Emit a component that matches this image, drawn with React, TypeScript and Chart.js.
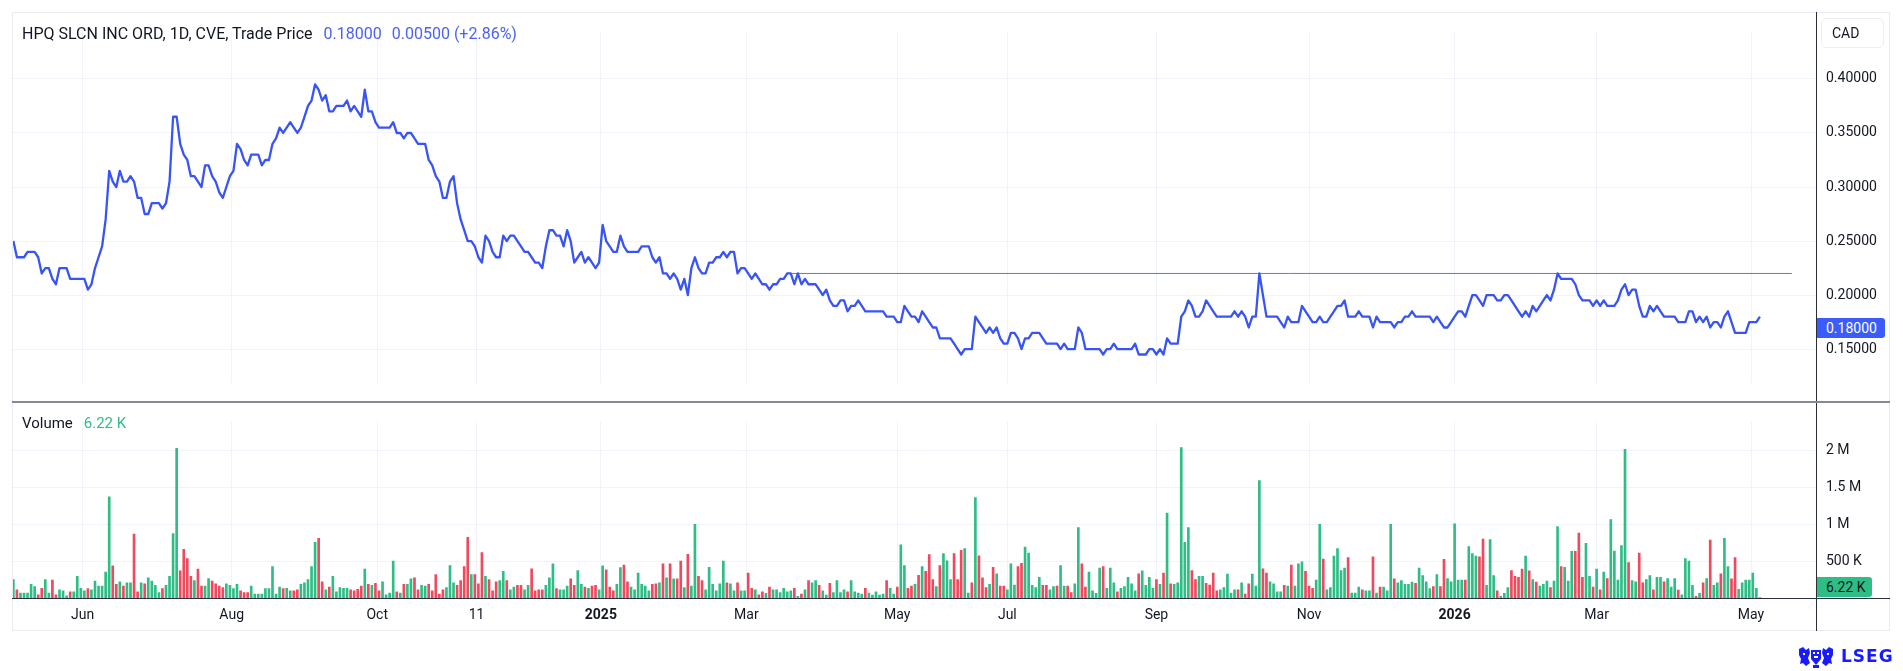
import React, { useEffect, useRef } from "react";
import { Chart, registerables } from "chart.js";

Chart.register(...registerables);

// ---------- DATA ----------
const closePrices: number[] = [
  // May 2024 -> Oct 2024
  0.25, 0.235, 0.235, 0.235, 0.24, 0.24, 0.24, 0.235, 0.22, 0.225,
  0.225, 0.215, 0.21, 0.225, 0.225, 0.225, 0.215, 0.215, 0.215, 0.215,
  0.215, 0.205, 0.21, 0.225, 0.235, 0.245, 0.27, 0.315, 0.305, 0.3,
  0.315, 0.305, 0.305, 0.31, 0.305, 0.29, 0.29, 0.275, 0.275, 0.285,
  0.285, 0.285, 0.28, 0.285, 0.305, 0.365, 0.365, 0.34, 0.33, 0.325,
  0.31, 0.31, 0.305, 0.3, 0.32, 0.32, 0.31, 0.305, 0.295, 0.29,
  0.3, 0.31, 0.315, 0.34, 0.335, 0.325, 0.32, 0.33, 0.33, 0.33,
  0.32, 0.325, 0.325, 0.34, 0.345, 0.355, 0.35, 0.355, 0.36, 0.355,
  0.35, 0.355, 0.365, 0.375, 0.38, 0.395, 0.39, 0.38, 0.385, 0.37,
  0.37, 0.375, 0.375, 0.375, 0.38, 0.37, 0.375, 0.37, 0.365,
  // Oct 2024 -> Feb 2025
  0.39, 0.37, 0.37, 0.36, 0.355, 0.355, 0.355, 0.355, 0.36, 0.35,
  0.35, 0.345, 0.35, 0.35, 0.345, 0.34, 0.34, 0.34, 0.325, 0.32,
  0.31, 0.305, 0.29, 0.29, 0.305, 0.31, 0.285, 0.27, 0.26, 0.25,
  0.25, 0.245, 0.235, 0.23, 0.255, 0.25, 0.24, 0.235, 0.235, 0.255,
  0.25, 0.255, 0.255, 0.25, 0.245, 0.24, 0.24, 0.235, 0.23, 0.23,
  0.225, 0.245, 0.26, 0.26, 0.255, 0.255, 0.245, 0.26, 0.25, 0.23,
  0.235, 0.24, 0.23, 0.235, 0.23, 0.225, 0.23, 0.265, 0.25, 0.245,
  0.24, 0.24, 0.255, 0.245, 0.24, 0.24, 0.24, 0.24, 0.245, 0.245,
  0.245, 0.235, 0.23, 0.235, 0.22, 0.22, 0.215, 0.22, 0.215, 0.205,
  0.215, 0.2, 0.225, 0.235, 0.225, 0.22, 0.22, 0.23, 0.23, 0.235,
  // Feb 2025 -> Jul 2025
  0.235, 0.24, 0.235, 0.24, 0.24, 0.22, 0.225, 0.225, 0.22, 0.215,
  0.22, 0.215, 0.21, 0.21, 0.205, 0.21, 0.21, 0.215, 0.215, 0.22,
  0.22, 0.21, 0.22, 0.21, 0.215, 0.21, 0.21, 0.21, 0.205, 0.2,
  0.205, 0.195, 0.19, 0.19, 0.195, 0.195, 0.185, 0.19, 0.19, 0.195,
  0.19, 0.185, 0.185, 0.185, 0.185, 0.185, 0.185, 0.18, 0.18, 0.18,
  0.175, 0.175, 0.19, 0.185, 0.18, 0.18, 0.175, 0.185, 0.18, 0.175,
  0.17, 0.17, 0.16, 0.16, 0.16, 0.16, 0.155, 0.15, 0.145, 0.15,
  0.15, 0.15, 0.18, 0.175, 0.17, 0.165, 0.17, 0.165, 0.17, 0.16,
  0.155, 0.155, 0.165, 0.165, 0.16, 0.15, 0.16, 0.16, 0.165, 0.165,
  0.165, 0.16, 0.155, 0.155, 0.155, 0.155, 0.15, 0.155, 0.15, 0.15,
  // Jul 2025 -> Dec 2025
  0.15, 0.17, 0.165, 0.15, 0.15, 0.15, 0.15, 0.15, 0.145, 0.15,
  0.15, 0.155, 0.15, 0.15, 0.15, 0.15, 0.15, 0.155, 0.145, 0.145,
  0.145, 0.15, 0.15, 0.145, 0.15, 0.145, 0.16, 0.155, 0.155, 0.155,
  0.18, 0.185, 0.195, 0.19, 0.18, 0.18, 0.185, 0.195, 0.19, 0.185,
  0.18, 0.18, 0.18, 0.18, 0.18, 0.185, 0.18, 0.185, 0.18, 0.17,
  0.18, 0.18, 0.22, 0.2, 0.18, 0.18, 0.18, 0.18, 0.175, 0.17,
  0.18, 0.175, 0.175, 0.175, 0.19, 0.185, 0.18, 0.175, 0.175, 0.18,
  0.175, 0.175, 0.18, 0.185, 0.19, 0.19, 0.195, 0.18, 0.18, 0.18,
  0.185, 0.18, 0.18, 0.18, 0.17, 0.18, 0.175, 0.175, 0.175, 0.175,
  0.17, 0.175, 0.175, 0.18, 0.18, 0.185, 0.18, 0.18, 0.18,
  // Dec 2025 -> May 2026
  0.18, 0.18, 0.175, 0.18, 0.175, 0.17, 0.17, 0.175, 0.18, 0.185,
  0.185, 0.18, 0.19, 0.2, 0.2, 0.195, 0.19, 0.2, 0.2, 0.2,
  0.195, 0.195, 0.2, 0.2, 0.195, 0.19, 0.185, 0.18, 0.185, 0.18,
  0.19, 0.185, 0.19, 0.195, 0.2, 0.195, 0.205, 0.22, 0.215, 0.215,
  0.215, 0.215, 0.21, 0.2, 0.195, 0.195, 0.195, 0.19, 0.195, 0.19,
  0.195, 0.19, 0.19, 0.19, 0.195, 0.205, 0.21, 0.2, 0.205, 0.205,
  0.19, 0.18, 0.18, 0.19, 0.185, 0.19, 0.185, 0.18, 0.18, 0.18,
  0.18, 0.175, 0.175, 0.175, 0.185, 0.185, 0.175, 0.18, 0.175, 0.18,
  0.17, 0.175, 0.175, 0.17, 0.18, 0.185, 0.175, 0.165, 0.165, 0.165,
  0.165, 0.175, 0.175, 0.175, 0.18,
];

// daily volume, in thousands of shares
const volumeThousands: number[] = [
  250, 110, 66, 66, 66, 185, 154, 44, 132, 250,
  66, 242, 44, 110, 97, 30, 84, 84, 295, 132,
  97, 128, 110, 229, 163, 163, 352, 1374, 436, 185,
  220, 163, 207, 207, 868, 84, 207, 194, 273, 229,
  172, 75, 128, 172, 295, 877, 2035, 370, 661, 537,
  295, 238, 392, 163, 163, 264, 229, 194, 163, 141,
  194, 172, 128, 185, 97, 75, 75, 163, 53, 53,
  53, 128, 128, 427, 53, 150, 128, 132, 97, 97,
  110, 185, 207, 250, 427, 758, 810, 220, 110, 150,
  295, 84, 141, 132, 132, 110, 97, 119, 163,

  392, 185, 172, 198, 97, 220, 44, 66, 502, 84,
  66, 185, 185, 260, 273, 110, 172, 163, 185, 97,
  317, 53, 110, 141, 440, 207, 172, 238, 427, 824,
  317, 317, 194, 617, 295, 251, 97, 220, 238, 361,
  238, 110, 150, 172, 172, 110, 172, 396, 97, 110,
  110, 172, 273, 463, 128, 110, 110, 163, 260, 172,
  374, 185, 150, 132, 163, 172, 110, 436, 383, 150,
  97, 185, 414, 449, 220, 150, 110, 339, 185, 163,
  97, 185, 194, 207, 463, 273, 463, 260, 260, 502,
  141, 595, 163, 1000, 295, 238, 110, 418, 185, 97,

  194, 502, 207, 194, 97, 207, 97, 97, 339, 132,
  110, 44, 84, 62, 150, 110, 110, 75, 132, 84,
  97, 132, 22, 53, 110, 238, 207, 238, 172, 97,
  40, 198, 75, 238, 75, 110, 84, 238, 84, 66,
  53, 132, 66, 40, 84, 40, 53, 238, 132, 53,
  150, 722, 440, 132, 163, 185, 308, 427, 361, 590,
  251, 154, 440, 603, 506, 251, 603, 251, 647, 670,
  66, 207, 1366, 573, 273, 141, 185, 418, 330, 163,
  163, 110, 463, 176, 427, 471, 692, 612, 172, 141,
  282, 172, 172, 110, 154, 163, 440, 163, 163, 75,

  194, 956, 463, 150, 352, 97, 62, 405, 427,
  132, 405, 207, 84, 132, 154, 282, 194, 97, 330,
  370, 172, 282, 132, 251, 185, 339, 1154, 194, 185,
  207, 2044, 758, 956, 374, 251, 295, 295, 198, 176,
  339, 97, 110, 141, 326, 66, 110, 110, 207, 53,
  194, 326, 163, 1595, 396, 339, 220, 194, 84, 84,
  172, 163, 449, 163, 463, 493, 361, 163, 132, 242,
  1000, 529, 110, 141, 568, 670, 374, 405, 551, 66,
  66, 150, 110, 97, 97, 559, 66, 150, 150, 97,
  1000, 260, 207, 238, 185, 185, 216, 198, 405, 304,

  220, 128, 154, 317, 154, 524, 264, 220, 1009, 242,
  242, 242, 700, 603, 568, 559, 802, 172, 793, 304,
  97, 22, 62, 141, 374, 295, 282, 392, 568, 370,
  251, 216, 163, 185, 229, 141, 229, 969, 427, 418,
  229, 634, 634, 881, 282, 744, 295, 150, 392, 110,
  352, 264, 1066, 639, 242, 714, 2022, 480, 238, 220,
  612, 207, 251, 304, 110, 282, 282, 220, 264, 150,
  264, 106, 44, 537, 502, 172, 22, 62, 207, 264,
  788, 172, 207, 330, 810, 427, 260, 551, 119, 207,
  242, 242, 339, 132, 6.22,
];

// g = up day (green bar), r = down day (red bar)
const volumeDirection: string = [
  "grgggggrrg", "grrgggrggg", "grggggggrr", "grggrrgrgg", "ggrggggrrr",
  "rgrrggrrrr", "ggggrrrggg", "ggggggrggr", "rgggggrrgr", "gggggrrrr",
  "grgrrggggr", "grggrrggrr", "rrrgggrrrr", "grrrgrrrgg", "rggrrggrrr",
  "rgggrgggrr", "ggrgrrggrr", "rggrrggggg", "grrgrgrgrr", "grggrrgggg",
  "ggrggrggrr", "grrgrggggg", "grgrgrggrg", "grggggrggg", "grgggggrgg",
  "rggrrgrgrr", "rgrgggrrrg", "grgrrrgrgr", "rgggrrgggg", "grrggrggrr",
  "ggrrggggr", "gggrgggggr", "ggggrgrgrg", "ggggrrggrr", "rrgggggrgr",
  "rgggrrgggg", "rgrgggrrrg", "grggggggrg", "ggrggrgrgg", "grgggggrgg",
  "ggrgrrgggg", "grgggrrggg", "rgggrrrrgr", "grgggrggrg", "ggrrrggrgr",
  "grgggggrgg", "rrggrggrgg", "grggggrgrg", "rggrggrrgg", "ggggg",
].join("");

// time-axis labels and the trading-day position where each one sits
const xTickLabels: string[] = ["Jun", "Aug", "Oct", "11", "2025", "Mar", "May", "Jul", "Sep", "Nov", "2026", "Mar", "May"];
const xTickDayIndex: number[] = [19.5, 61.5, 102.5, 130.5, 165.5, 206.5, 249, 280, 322, 365, 406, 446, 489.5];

const priceTicks: number[] = [0.15, 0.2, 0.25, 0.3, 0.35, 0.4];
const volumeTicks: number[] = [500000, 1000000, 1500000, 2000000];
const volumeTickLabels: string[] = ["500 K", "1 M", "1.5 M", "2 M"];

// horizontal level drawn on the chart (from trading day .. to trading day)
const resistanceLevel = 0.22;
const resistanceFromDay = 218;
const resistanceToDay = 501;

const symbolTitle = "HPQ SLCN INC ORD, 1D, CVE, Trade Price";
const lastPrice = 0.18;
const priceChange = 0.005;
const priceChangePct = 2.86;
const lastVolumeText = "6.22 K";
const currency = "CAD";

// ---------- STYLE ----------
const FONT = "Roboto, 'Liberation Sans', Arial, sans-serif";
const TEXT = "#131722";
const GRID = "#f0f3fa";
const UP = "#2ebd85";
const DOWN = "#f0485c";
const LINE = "#3853f6";
const X_MIN = -0.1;
const X_MAX = 507.8;
const AXIS_W = 74;

function xScale(showLabels: boolean): any {
  return {
    type: "linear",
    min: X_MIN,
    max: X_MAX,
    offset: false,
    afterBuildTicks: (s: any) => {
      s.ticks = xTickDayIndex.map((v) => ({ value: v }));
    },
    ticks: showLabels
      ? {
          callback: (_v: any, i: number) => xTickLabels[i],
          color: TEXT,
          font: (ctx: any) => ({
            family: FONT,
            size: 14,
            weight: /^\d{4}$/.test(xTickLabels[ctx.index] || "") ? "bold" : "normal",
          }),
          padding: 9,
          maxRotation: 0,
          autoSkip: false,
        }
      : { display: false },
    grid: { color: GRID, drawTicks: false, offset: false },
    border: { display: false },
    afterFit: (s: any) => {
      s.height = showLabels ? 33 : 0;
    },
  };
}

function PriceChart() {
  const ref = useRef<HTMLCanvasElement>(null);
  useEffect(() => {
    const chart = new Chart(ref.current as HTMLCanvasElement, {
      type: "line",
      data: {
        datasets: [
          {
            data: closePrices.map((p, i) => ({ x: i, y: p })),
            borderColor: LINE,
            borderWidth: 2.3,
            pointRadius: 0,
            tension: 0,
            borderJoinStyle: "round",
          },
          {
            data: [
              { x: resistanceFromDay, y: resistanceLevel },
              { x: resistanceToDay, y: resistanceLevel },
            ],
            borderColor: "#5877f8",
            borderWidth: 1,
            pointRadius: 0,
          },
        ],
      },
      options: {
        responsive: false,
        animation: false,
        events: [],
        layout: { padding: 0 },
        plugins: { legend: { display: false }, tooltip: { enabled: false } },
        scales: {
          x: xScale(false),
          y: {
            position: "right",
            min: 0.119,
            max: 0.444,
            afterBuildTicks: (s: any) => {
              s.ticks = priceTicks.map((v) => ({ value: v }));
            },
            ticks: {
              callback: (v: any) => Number(v).toFixed(5),
              color: TEXT,
              font: { family: FONT, size: 14 },
              padding: 10,
            },
            grid: { color: GRID, drawTicks: false },
            border: { display: false },
            afterFit: (s: any) => {
              s.width = AXIS_W;
            },
          },
        },
      },
    } as any);
    return () => chart.destroy();
  }, []);
  return (
    <canvas
      ref={ref}
      width={1877}
      height={388}
      style={{ position: "absolute", left: 13, top: 13, width: 1877, height: 388 }}
    />
  );
}

function VolumeChart() {
  const ref = useRef<HTMLCanvasElement>(null);
  useEffect(() => {
    const chart = new Chart(ref.current as HTMLCanvasElement, {
      type: "bar",
      data: {
        datasets: [
          {
            data: volumeThousands.map((v, i) => ({ x: i, y: v * 1000 })),
            backgroundColor: volumeThousands.map((_, i) => (volumeDirection[i] === "r" ? DOWN : UP)),
            barThickness: 2,
            borderWidth: 0,
          },
        ],
      },
      options: {
        responsive: false,
        animation: false,
        events: [],
        layout: { padding: 0 },
        plugins: { legend: { display: false }, tooltip: { enabled: false } },
        scales: {
          x: xScale(true),
          y: {
            position: "right",
            min: 0,
            max: 2400000,
            afterBuildTicks: (s: any) => {
              s.ticks = volumeTicks.map((v) => ({ value: v }));
            },
            ticks: {
              callback: (_v: any, i: number) => volumeTickLabels[i],
              color: TEXT,
              font: { family: FONT, size: 14 },
              padding: 10,
            },
            grid: { color: GRID, drawTicks: false },
            border: { display: false },
            afterFit: (s: any) => {
              s.width = AXIS_W;
            },
          },
        },
      },
    } as any);
    return () => chart.destroy();
  }, []);
  return (
    <canvas
      ref={ref}
      width={1877}
      height={228}
      style={{ position: "absolute", left: 13, top: 403, width: 1877, height: 228 }}
    />
  );
}

function Crest() {
  return (
    <svg width="36" height="22" viewBox="0 0 36 22" style={{ position: "absolute", left: 1798, top: 646 }}>
      <g fill="#1a1aff">
        <path d="M1 3 L5 1 L8 4 L11 2 L12 7 L10 12 L12 17 L8 20 L5 17 L2 18 L3 13 L1 9 Z" />
        <path d="M35 3 L31 1 L28 4 L25 2 L24 7 L26 12 L24 17 L28 20 L31 17 L34 18 L33 13 L35 9 Z" />
        <path d="M13 4 L23 4 L23 13 L18 19 L13 13 Z" />
        <rect x="15" y="19" width="6" height="3" />
      </g>
      <g fill="#ffffff">
        <rect x="15" y="6" width="2" height="2" />
        <rect x="19" y="6" width="2" height="2" />
        <rect x="16" y="10" width="4" height="2" />
        <rect x="5" y="7" width="2" height="2" />
        <rect x="29" y="7" width="2" height="2" />
      </g>
    </svg>
  );
}

export default function App() {
  useEffect(() => {
    document.body.style.margin = "0";
    document.body.style.background = "#ffffff";
  }, []);
  const changeText = `${priceChange.toFixed(5)} (+${priceChangePct.toFixed(2)}%)`;
  const line = (style: React.CSSProperties) => <div style={{ position: "absolute", ...style }} />;
  return (
    <div
      style={{
        position: "fixed",
        left: 0,
        top: 0,
        width: 1903,
        height: 671,
        background: "#ffffff",
        fontFamily: FONT,
        color: TEXT,
        overflow: "hidden",
      }}
    >
      {/* outer frame */}
      {line({ left: 12, top: 12, width: 1878, height: 619, border: "1px solid #e9ebf0", boxSizing: "border-box" })}
      <PriceChart />
      <VolumeChart />
      {/* separators */}
      {line({ left: 1816, top: 12, width: 1, height: 619, background: "#2a2e39" })}
      {line({ left: 12, top: 401, width: 1878, height: 2, background: "#868993" })}
      {line({ left: 12, top: 598, width: 1878, height: 1, background: "#2a2e39" })}

      {/* legend */}
      <div style={{ position: "absolute", left: 22, top: 23, fontSize: 16, lineHeight: "21px", whiteSpace: "nowrap" }}>
        <span>{symbolTitle}</span>
        <span style={{ color: "#4a62f7", marginLeft: 11 }}>{lastPrice.toFixed(5)}</span>
        <span style={{ color: "#4a62f7", marginLeft: 10 }}>{changeText}</span>
      </div>
      <div style={{ position: "absolute", left: 22, top: 413, fontSize: 15, lineHeight: "20px", whiteSpace: "nowrap" }}>
        <span>Volume</span>
        <span style={{ color: "#2ebd85", marginLeft: 11 }}>{lastVolumeText}</span>
      </div>

      {/* currency box */}
      <div
        style={{
          position: "absolute",
          left: 1821,
          top: 18,
          width: 63,
          height: 30,
          border: "1px solid #eceef2",
          borderRadius: 5,
          boxSizing: "border-box",
          fontSize: 14,
          lineHeight: "28px",
          paddingLeft: 10,
        }}
      >
        {currency}
      </div>

      {/* last price tag */}
      <div
        style={{
          position: "absolute",
          left: 1817,
          top: 318,
          width: 68,
          height: 20,
          background: "#3b5bfb",
          color: "#ffffff",
          borderRadius: "0 3px 3px 0",
          fontSize: 14,
          lineHeight: "20px",
          paddingLeft: 9,
          boxSizing: "border-box",
        }}
      >
        {lastPrice.toFixed(5)}
      </div>

      {/* last volume tag */}
      <div
        style={{
          position: "absolute",
          left: 1817,
          top: 577,
          width: 55,
          height: 20,
          background: "#2ebd85",
          color: TEXT,
          borderRadius: "0 3px 3px 0",
          fontSize: 14,
          lineHeight: "20px",
          paddingLeft: 9,
          boxSizing: "border-box",
        }}
      >
        {lastVolumeText}
      </div>

      {/* LSEG mark */}
      <Crest />
      <div
        style={{
          position: "absolute",
          left: 1841,
          top: 646,
          fontSize: 17,
          fontWeight: 700,
          color: "#1a1aff",
          letterSpacing: 1,
          lineHeight: "21px",
          fontFamily: "'DejaVu Sans', Roboto, sans-serif",
        }}
      >
        LSEG
      </div>
    </div>
  );
}
